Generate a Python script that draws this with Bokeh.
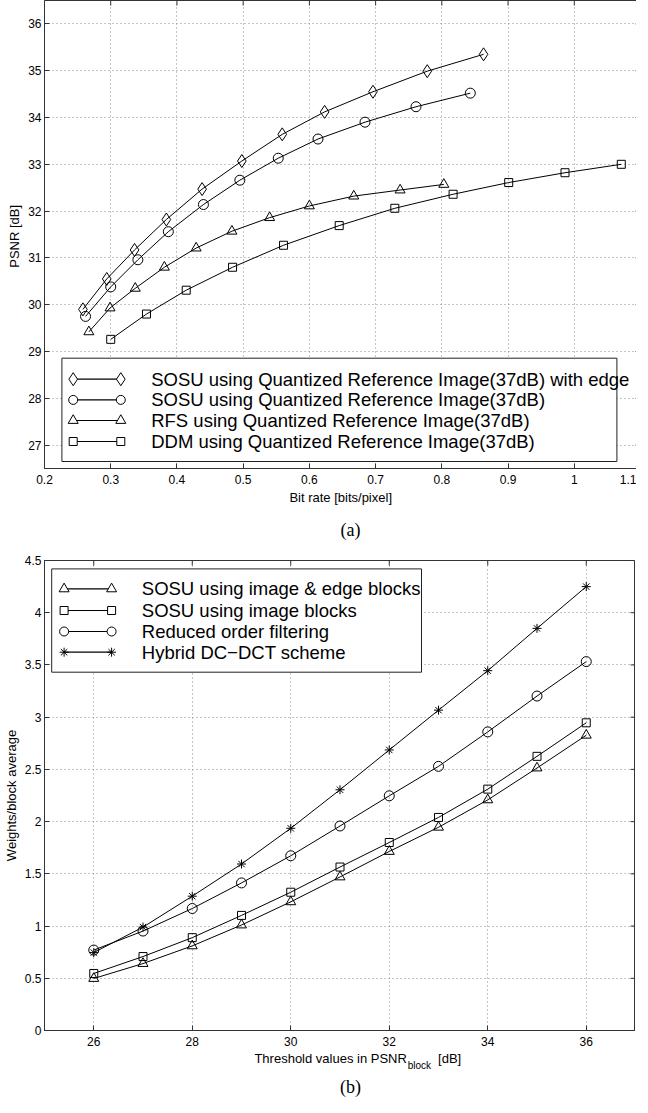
import math
from bokeh.plotting import figure
from bokeh.models import FixedTicker, Range1d
from bokeh.layouts import column
from bokeh.embed import file_html
from bokeh.resources import INLINE
from bokeh.core.properties import value

# ---------------- data: chart (a) ----------------
rate_sosu_edge = [0.258, 0.294, 0.336, 0.384, 0.438, 0.498, 0.559, 0.623, 0.696, 0.778, 0.863]
psnr_sosu_edge = [29.90, 30.55, 31.17, 31.82, 32.47, 33.07, 33.64, 34.12, 34.55, 34.99, 35.35]
rate_sosu = [0.262, 0.300, 0.341, 0.387, 0.440, 0.495, 0.553, 0.613, 0.684, 0.761, 0.843]
psnr_sosu = [29.75, 30.38, 30.96, 31.56, 32.14, 32.66, 33.13, 33.54, 33.90, 34.23, 34.52]
rate_rfs = [0.267, 0.299, 0.337, 0.381, 0.429, 0.483, 0.540, 0.600, 0.667, 0.737, 0.803]
psnr_rfs = [29.42, 29.93, 30.35, 30.80, 31.21, 31.57, 31.86, 32.11, 32.32, 32.45, 32.57]
rate_ddm = [0.300, 0.354, 0.414, 0.484, 0.561, 0.645, 0.729, 0.817, 0.901, 0.986, 1.071]
psnr_ddm = [29.26, 29.80, 30.31, 30.80, 31.27, 31.69, 32.06, 32.36, 32.61, 32.82, 33.00]
labels_a = [
    "SOSU using Quantized Reference Image(37dB) with edge",
    "SOSU using Quantized Reference Image(37dB)",
    "RFS using Quantized Reference Image(37dB)",
    "DDM using Quantized Reference Image(37dB)",
]
xticks_a = [0.2, 0.3, 0.4, 0.5, 0.6, 0.7, 0.8, 0.9, 1.0, 1.1]
xtick_labels_a = ["0.2", "0.3", "0.4", "0.5", "0.6", "0.7", "0.8", "0.9", "1", "1.1"]
yticks_a = [27, 28, 29, 30, 31, 32, 33, 34, 35, 36]

# ---------------- data: chart (b) ----------------
threshold = [26, 27, 28, 29, 30, 31, 32, 33, 34, 35, 36]
w_edge_blocks = [0.498, 0.641, 0.810, 1.010, 1.232, 1.470, 1.714, 1.946, 2.208, 2.513, 2.827]
w_image_blocks = [0.546, 0.708, 0.889, 1.102, 1.324, 1.565, 1.800, 2.040, 2.311, 2.625, 2.946]
w_reduced = [0.770, 0.952, 1.168, 1.413, 1.673, 1.958, 2.247, 2.529, 2.859, 3.202, 3.532]
w_hybrid = [0.746, 0.990, 1.286, 1.594, 1.936, 2.305, 2.686, 3.067, 3.445, 3.850, 4.250]
labels_b = [
    "SOSU using image & edge blocks",
    "SOSU using image blocks",
    "Reduced order filtering",
    "Hybrid DC\u2212DCT scheme",
]
xticks_b = [26, 28, 30, 32, 34, 36]
yticks_b = [0, 0.5, 1, 1.5, 2, 2.5, 3, 3.5, 4, 4.5]
ytick_labels_b = ["0", "0.5", "1", "1.5", "2", "2.5", "3", "3.5", "4", "4.5"]

SANS = "Liberation Sans"
SERIF = "Liberation Serif"
FRAME = "#333333"
W = 632


def style(p, xt, yt, xr, yr, xlab=None, ylab=None):
    p.outline_line_color = FRAME
    p.outline_line_width = 1
    p.background_fill_color = "white"
    p.border_fill_color = "white"
    for ax in (p.xaxis[0], p.yaxis[0]):
        ax.axis_line_color = FRAME
        ax.major_tick_line_color = FRAME
        ax.major_tick_in = 5
        ax.major_tick_out = 0
        ax.minor_tick_line_color = None
        ax.major_label_text_font = SANS
        ax.major_label_text_font_size = "12px"
        ax.major_label_text_color = "black"
        ax.axis_label_text_font = SANS
        ax.axis_label_text_font_size = "13px"
        ax.axis_label_text_font_style = "normal"
        ax.axis_label_text_color = "black"
    p.xaxis[0].ticker = FixedTicker(ticks=xt)
    p.yaxis[0].ticker = FixedTicker(ticks=yt)
    p.xaxis[0].major_label_standoff = 6
    p.yaxis[0].major_label_standoff = 3
    p.yaxis[0].axis_label_standoff = 3
    p.xaxis[0].axis_label_standoff = 3
    if xlab:
        p.xaxis[0].axis_label = xlab
    if ylab:
        p.yaxis[0].axis_label = ylab
    for g, t in ((p.xgrid[0], xt), (p.ygrid[0], yt)):
        g.ticker = FixedTicker(ticks=t)
        g.grid_line_color = "#8a8a8a"
        g.grid_line_dash = "1 3"
        g.grid_line_width = 1
    # inward ticks on the top and right edges of the frame
    p.ray(x=xt, y=[yr[1]] * len(xt), length=5, length_units="screen",
          angle=-math.pi / 2, line_color=FRAME, line_width=1)
    p.ray(x=[xr[1]] * len(yt), y=yt, length=5, length_units="screen",
          angle=math.pi, line_color=FRAME, line_width=1)


def series(p, x, y, marker, size):
    p.line(x, y, line_color="black", line_width=1)
    p.scatter(x, y, marker=marker, size=size, line_color="black",
              fill_color=None, line_width=1)


def mapper(xr, yr, fw, fh):
    X = lambda dx: xr[0] + dx / fw * (xr[1] - xr[0])
    Y = lambda dy: yr[1] - dy / fh * (yr[1] - yr[0])
    return X, Y


def legend(p, X, Y, box, rows, mk, tx, entries, fs):
    p.quad(left=[X(box[0])], right=[X(box[1])], top=[Y(box[2])], bottom=[Y(box[3])],
           fill_color="white", line_color="#222222", line_width=1)
    for (lab, marker, size), dy in zip(entries, rows):
        xs = [X(mk[0]), X(mk[1])]
        ys = [Y(dy), Y(dy)]
        p.line(xs, ys, line_color="black", line_width=1.2)
        p.scatter(xs, ys, marker=marker, size=size, line_color="black",
                  fill_color="white", line_width=1)
        p.text([X(tx)], [Y(dy)], text=[lab], text_font=value(SANS),
               text_font_size=value(fs), text_baseline="middle",
               text_align="left", text_color="black")


def strip(h):
    s = figure(width=W, height=h, output_backend="svg", toolbar_location=None,
               x_range=Range1d(0, W), y_range=Range1d(h, 0),
               x_axis_type=None, y_axis_type=None, min_border=0)
    s.grid.visible = False
    s.outline_line_color = None
    s.background_fill_color = "white"
    s.border_fill_color = "white"
    return s


def put(s, x, y, txt, font, size, align="left", baseline="middle"):
    s.text([x], [y], text=[txt], text_font=value(font), text_font_size=value(size),
           text_align=align, text_baseline=baseline, text_color="black")


# ---------------- chart (a) ----------------
XR_A, YR_A = (0.2, 1.1), (26.5, 36.5)
FW_A, FH_A = 596, 468
pa = figure(frame_width=FW_A, frame_height=FH_A, output_backend="svg",
            toolbar_location=None, x_range=Range1d(*XR_A), y_range=Range1d(*YR_A),
            min_border_left=36, min_border_right=0, min_border_top=0,
            min_border_bottom=40)
style(pa, xticks_a, yticks_a, XR_A, YR_A, "Bit rate  [bits/pixel]", "PSNR  [dB]")
pa.xaxis[0].major_label_overrides = {t: s for t, s in zip(xticks_a, xtick_labels_a)}
series(pa, rate_sosu_edge, psnr_sosu_edge, "diamond", 13)
series(pa, rate_sosu, psnr_sosu, "circle", 10)
series(pa, rate_rfs, psnr_rfs, "triangle", 10)
series(pa, rate_ddm, psnr_ddm, "square", 8)
Xa, Ya = mapper(XR_A, YR_A, FW_A, FH_A)
legend(pa, Xa, Ya, (17.4, 572.4, 357.7, 461.0), (378.7, 399.4, 420.0, 441.0),
       (28.7, 76.3), 106.7,
       list(zip(labels_a, ["diamond", "circle", "triangle", "square"], [13, 9, 10, 8])),
       "18.5px")

sa = strip(40)
put(sa, 329, 21, "(a)", SERIF, "18px", align="center")

# ---------------- chart (b) ----------------
XR_B, YR_B = (25, 37), (0, 4.5)
FW_B, FH_B = 591, 470
pb = figure(frame_width=FW_B, frame_height=FH_B, output_backend="svg",
            toolbar_location=None, x_range=Range1d(*XR_B), y_range=Range1d(*YR_B),
            min_border_left=41, min_border_right=0, min_border_top=12,
            min_border_bottom=18)
style(pb, xticks_b, yticks_b, XR_B, YR_B, None, "Weights/block average")
pb.yaxis[0].major_label_overrides = {t: s for t, s in zip(yticks_b, ytick_labels_b)}
series(pb, threshold, w_edge_blocks, "triangle", 10)
series(pb, threshold, w_image_blocks, "square", 8)
series(pb, threshold, w_reduced, "circle", 10)
series(pb, threshold, w_hybrid, "asterisk", 9)
Xb, Yb = mapper(XR_B, YR_B, FW_B, FH_B)
legend(pb, Xb, Yb, (7.2, 377.0, 8.4, 111.7), (28.4, 50.0, 71.0, 91.7),
       (19.6, 67.1), 97.3,
       list(zip(labels_b, ["triangle", "square", "circle", "asterisk"], [10, 8, 9, 9])),
       "18.5px")

sb = strip(49)
put(sb, 389.5, 9.7, "Threshold values in PSNR", SANS, "13px", align="right")
put(sb, 390.3, 16.5, "block", SANS, "10px")
put(sb, 423, 9.7, "[dB]", SANS, "13px")
put(sb, 329, 48, "(b)", SERIF, "18px", align="center", baseline="bottom")

layout = column(pa, sa, pb, sb, spacing=0)
open("out.html", "w").write(file_html(layout, INLINE))
